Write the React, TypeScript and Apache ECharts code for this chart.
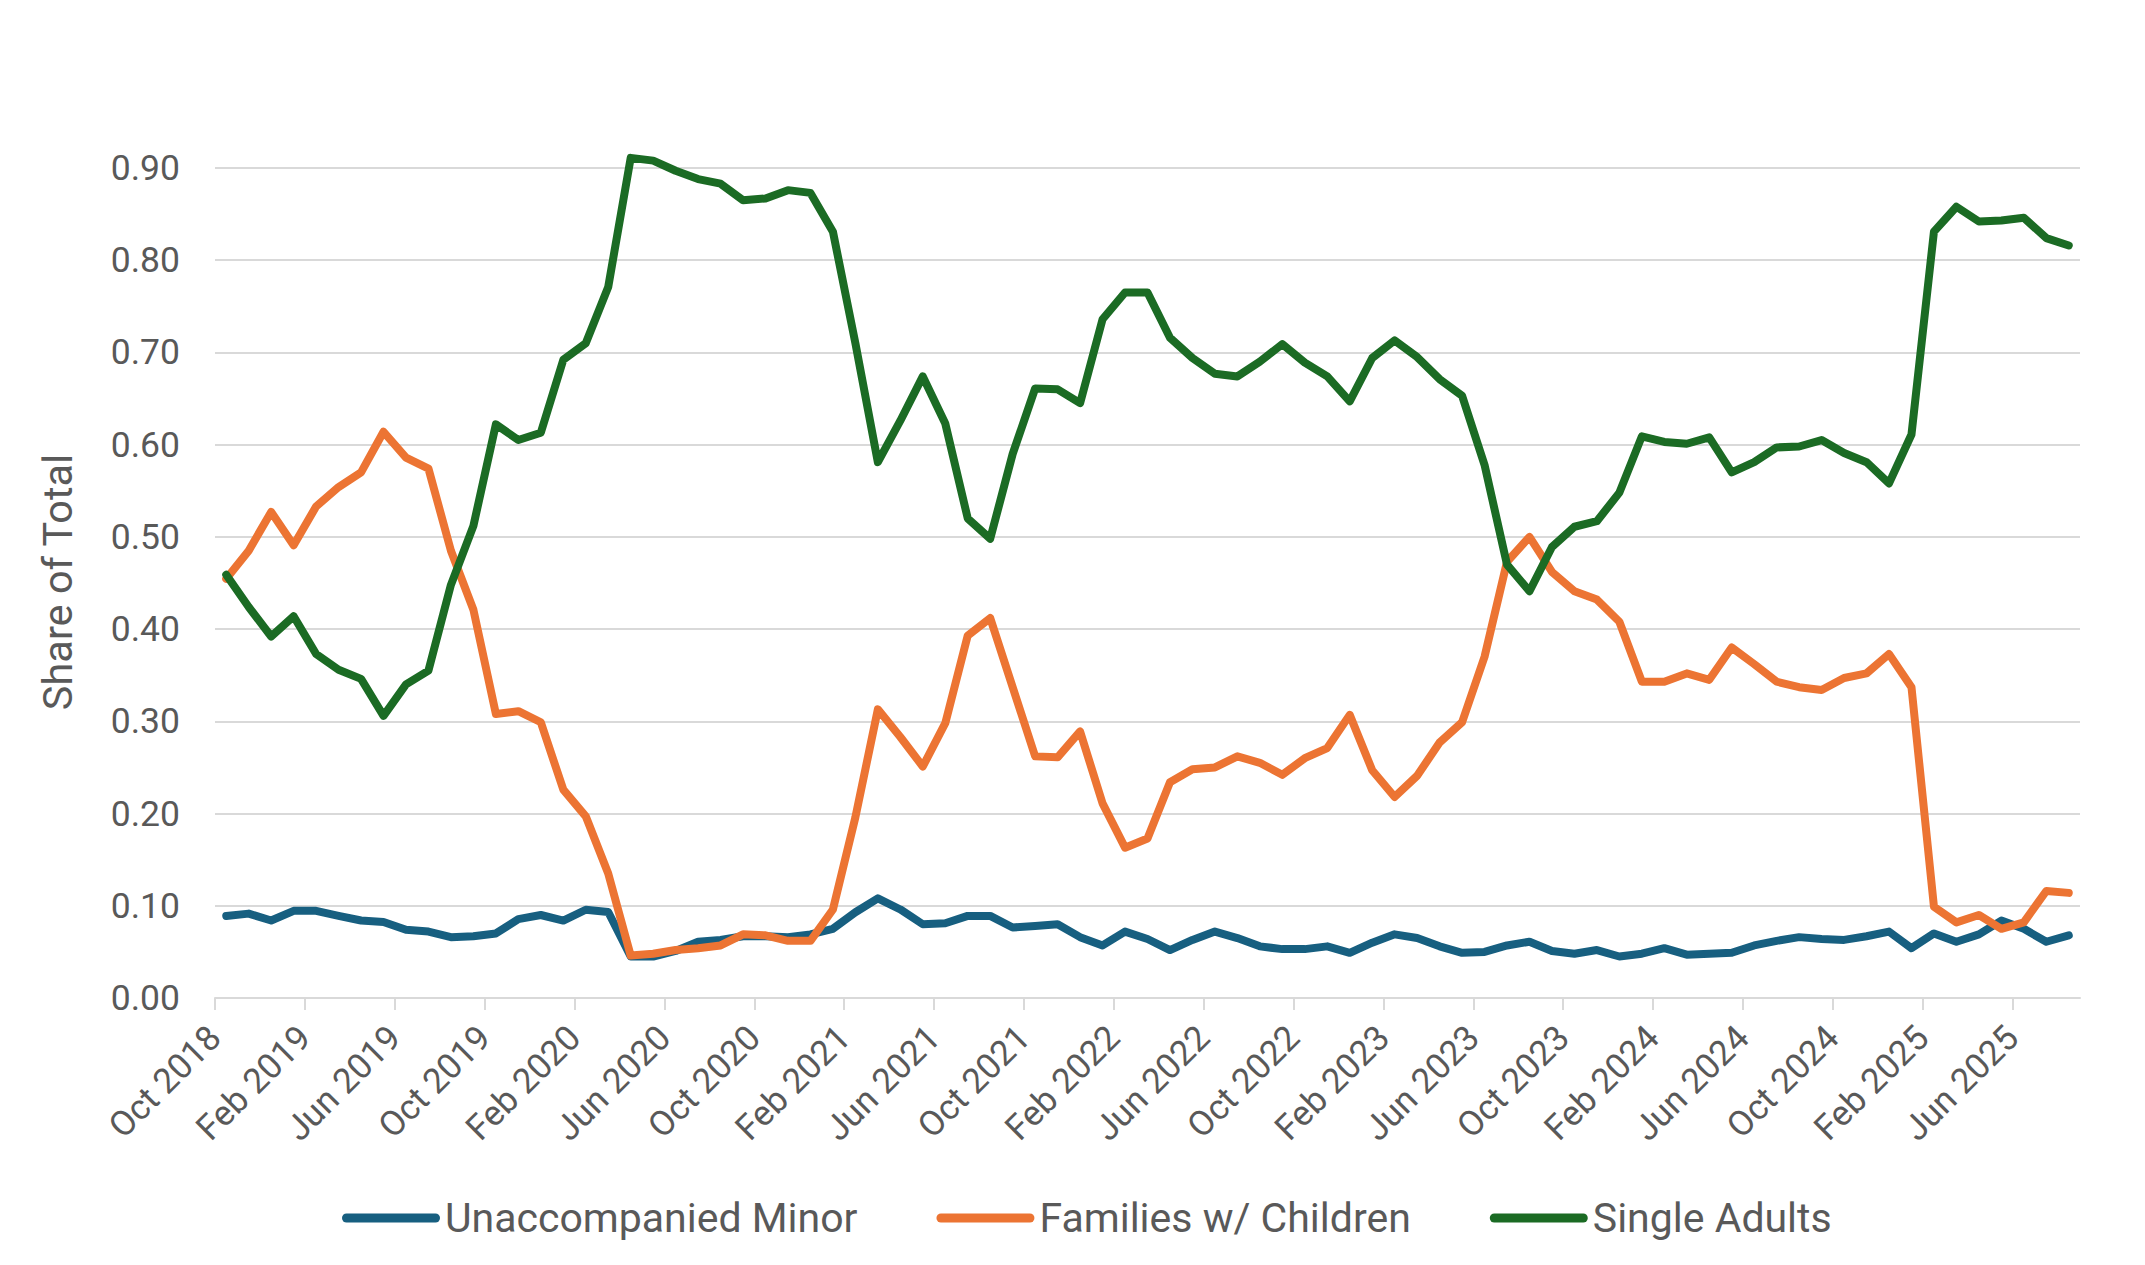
import React, { useEffect, useRef } from "react";
import * as echarts from "echarts";

const tickLabels = [
  "Oct 2018", "Feb 2019", "Jun 2019", "Oct 2019", "Feb 2020", "Jun 2020", "Oct 2020",
  "Feb 2021", "Jun 2021", "Oct 2021", "Feb 2022", "Jun 2022", "Oct 2022", "Feb 2023",
  "Jun 2023", "Oct 2023", "Feb 2024", "Jun 2024", "Oct 2024", "Feb 2025", "Jun 2025",
];

const seriesNames = ["Unaccompanied Minor", "Families w/ Children", "Single Adults"];

// monthly values, Oct 2018 .. Aug 2025
const unaccompaniedMinor = [
  0.089, 0.0915, 0.084, 0.0945, 0.0945, 0.089, 0.084, 0.0825, 0.074, 0.072,
  0.066, 0.067, 0.07, 0.0855, 0.09, 0.084, 0.0957, 0.0933, 0.045, 0.045,
  0.051, 0.061, 0.063, 0.067, 0.067, 0.066, 0.069, 0.075, 0.093, 0.108,
  0.096, 0.08, 0.081, 0.089, 0.089, 0.0765, 0.078, 0.08, 0.066, 0.057,
  0.072, 0.064, 0.052, 0.063, 0.072, 0.065, 0.056, 0.053, 0.053, 0.056,
  0.049, 0.06, 0.069, 0.065, 0.056, 0.049, 0.05, 0.057, 0.061, 0.051,
  0.048, 0.052, 0.045, 0.048, 0.054, 0.047, 0.048, 0.049, 0.057, 0.062,
  0.066, 0.064, 0.063, 0.067, 0.072, 0.054, 0.07, 0.061, 0.069, 0.084,
  0.075, 0.061, 0.068,
];

const familiesWithChildren = [
  0.4545, 0.485, 0.527, 0.491, 0.533, 0.554, 0.57, 0.614, 0.586, 0.574,
  0.485, 0.421, 0.308, 0.311, 0.299, 0.226, 0.197, 0.135, 0.046, 0.048,
  0.052, 0.054, 0.057, 0.069, 0.068, 0.062, 0.062, 0.096, 0.196, 0.313,
  0.283, 0.251, 0.298, 0.393, 0.412, 0.337, 0.262, 0.261, 0.289, 0.211,
  0.163, 0.173, 0.234, 0.248, 0.25, 0.262, 0.255, 0.242, 0.26, 0.271,
  0.307, 0.247, 0.218, 0.241, 0.277, 0.299, 0.37, 0.473, 0.5, 0.462,
  0.441, 0.432, 0.408, 0.343, 0.343, 0.352, 0.345, 0.38, 0.362, 0.343,
  0.337, 0.334, 0.347, 0.352, 0.373, 0.337, 0.099, 0.082, 0.09, 0.075,
  0.082, 0.116, 0.114,
];

const singleAdults = [
  0.459, 0.424, 0.392, 0.414, 0.373, 0.356, 0.346, 0.306, 0.34, 0.355,
  0.448, 0.512, 0.622, 0.605, 0.613, 0.692, 0.71, 0.771, 0.911, 0.908,
  0.897, 0.888, 0.883, 0.865, 0.867, 0.876, 0.873, 0.831, 0.71, 0.581,
  0.626, 0.674, 0.623, 0.52, 0.498, 0.59, 0.661, 0.66, 0.645, 0.736,
  0.765, 0.765, 0.716, 0.694, 0.677, 0.674, 0.69, 0.709, 0.689, 0.674,
  0.647, 0.694, 0.713, 0.695, 0.671, 0.653, 0.578, 0.47, 0.441, 0.489,
  0.511, 0.517, 0.548, 0.609, 0.603, 0.601, 0.608, 0.57, 0.581, 0.597,
  0.598, 0.605, 0.591, 0.581, 0.558, 0.611, 0.831, 0.858, 0.842, 0.843,
  0.846, 0.824, 0.816,
];

const colors = ["#175f80", "#ec7433", "#1b6b24"];
const TEXT = "#595959";
const GRID = "#d9d9d9";
const FONT = "Roboto";

export default function App() {
  const ref = useRef<HTMLDivElement>(null);
  useEffect(() => {
    const chart = echarts.init(ref.current!, null, { renderer: "svg" });
    const n = unaccompaniedMinor.length;
    const toPts = (arr: number[]) => arr.map((v, i) => [i + 0.5, v]);
    const tickValues = tickLabels.map((_, k) => k * 4);
    const all = [unaccompaniedMinor, familiesWithChildren, singleAdults];
    chart.setOption({
      animation: false,
      textStyle: { fontFamily: FONT },
      grid: { left: 215, right: 65, top: 168, bottom: 267 },
      xAxis: {
        type: "value",
        min: 0,
        max: n,
        axisLine: { show: true, onZero: false, lineStyle: { color: GRID, width: 2 } },
        axisTick: {
          show: true,
          length: 12,
          customValues: tickValues,
          lineStyle: { color: GRID, width: 2 },
        },
        axisLabel: {
          customValues: tickValues,
          rotate: 45,
          margin: 34,
          padding: [22, 0, 0, 0],
          fontSize: 35,
          color: TEXT,
          fontFamily: FONT,
          formatter: (v: number) => tickLabels[Math.round(v / 4)] ?? "",
        },
        splitLine: { show: false },
      },
      yAxis: {
        type: "value",
        min: 0,
        max: 0.9,
        interval: 0.1,
        axisLine: { show: false },
        axisTick: { show: false },
        axisLabel: {
          fontSize: 35.5,
          color: TEXT,
          fontFamily: FONT,
          margin: 35,
          formatter: (v: number) => v.toFixed(2),
        },
        splitLine: { lineStyle: { color: GRID, width: 2 } },
      },
      legend: {
        left: 337,
        top: 1189,
        itemWidth: 98,
        itemHeight: 9,
        itemGap: 79,
        symbolKeepAspect: false,
        icon: "path://M4.5 0H93.5A4.5 4.5 0 0 1 93.5 9H4.5A4.5 4.5 0 0 1 4.5 0Z",
        textStyle: { fontSize: 41, lineHeight: 48, color: TEXT, fontFamily: FONT },
        data: seriesNames,
      },
      graphic: [
        {
          type: "text",
          x: 57,
          y: 582,
          rotation: Math.PI / 2,
          style: {
            text: "Share of Total",
            fontSize: 41.5,
            fontFamily: FONT,
            fill: TEXT,
            align: "center",
            verticalAlign: "middle",
          },
        },
      ],
      series: all.map((arr, k) => ({
        name: seriesNames[k],
        type: "line",
        data: toPts(arr),
        symbol: "none",
        showSymbol: false,
        clip: false,
        color: colors[k],
        lineStyle: { color: colors[k], width: 8, cap: "round", join: "round" },
        itemStyle: { color: colors[k] },
      })),
    });
    return () => chart.dispose();
  }, []);
  return (
    <div
      ref={ref}
      style={{ position: "absolute", left: 0, top: 0, width: 2145, height: 1265 }}
    />
  );
}
